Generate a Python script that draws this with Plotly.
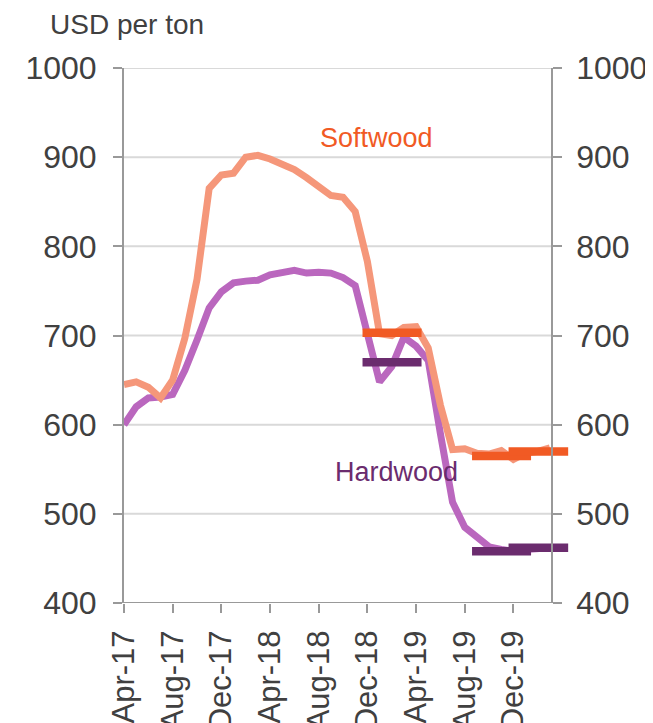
import plotly.graph_objects as go

# ---- data ----
month_labels = ["Apr-17", "May-17", "Jun-17", "Jul-17", "Aug-17", "Sep-17", "Oct-17", "Nov-17",
                "Dec-17", "Jan-18", "Feb-18", "Mar-18", "Apr-18", "May-18", "Jun-18", "Jul-18",
                "Aug-18", "Sep-18", "Oct-18", "Nov-18", "Dec-18", "Jan-19", "Feb-19", "Mar-19",
                "Apr-19", "May-19", "Jun-19", "Jul-19", "Aug-19", "Sep-19", "Oct-19", "Nov-19",
                "Dec-19", "Jan-20", "Feb-20", "Mar-20"]
softwood = [645, 648, 642, 630, 650, 697, 763, 865, 880, 882, 900, 902, 898, 893, 886, 877,
            867, 857, 855, 839, 783, 702, 700, 709, 710, 686, 622, 572, 573, 568, 567, 571,
            561, 568, 570, 574]
hardwood = [600, 620, 630, 631, 634, 661, 695, 731, 749, 759, 761, 762, 768, 771, 773, 770,
            771, 770, 765, 756, 703, 648, 665, 698, 688, 672, 590, 513, 485, 474, 463, 460,
            458, 460, 461, 462]
# period averages: (start month index, end month index, value)
softwood_avg = [(19.6, 24.45, 703), (28.6, 33.45, 565), (31.6, 36.5, 570)]
hardwood_avg = [(19.6, 24.45, 670), (28.6, 33.45, 458), (31.6, 36.5, 462)]
tick_labels = ["Apr-17", "Aug-17", "Dec-17", "Apr-18", "Aug-18", "Dec-18", "Apr-19", "Aug-19", "Dec-19"]
y_ticks = [400, 500, 600, 700, 800, 900, 1000]

# ---- styles ----
SOFT_LINE = "#F5977A"
HARD_LINE = "#BA67BE"
SOFT_BAR = "#F15A24"
HARD_BAR = "#6B2C6E"
AXIS_C = "#999999"
GRID_C = "#D9D9D9"
TXT_C = "#404040"
FONT = "Liberation Sans, Arial, sans-serif"

X_RANGE = [0, 36.65]
RIGHT_AXIS_MONTH = 35.15
right_pos = RIGHT_AXIS_MONTH / X_RANGE[1]

x_idx = list(range(len(month_labels)))


def seg_xy(segs):
    xs, ys = [], []
    for s, e, v in segs:
        xs += [s, e, None]
        ys += [v, v, None]
    return xs, ys


fig = go.Figure()
fig.add_trace(go.Scatter(x=x_idx, y=hardwood, mode="lines", line=dict(color=HARD_LINE, width=7),
                         hoverinfo="skip"))
fig.add_trace(go.Scatter(x=x_idx, y=softwood, mode="lines", line=dict(color=SOFT_LINE, width=7),
                         hoverinfo="skip"))
sx, sy = seg_xy(softwood_avg)
hx, hy = seg_xy(hardwood_avg)
fig.add_trace(go.Scatter(x=hx, y=hy, mode="lines", line=dict(color=HARD_BAR, width=8.5),
                         yaxis="y2", hoverinfo="skip"))
fig.add_trace(go.Scatter(x=sx, y=sy, mode="lines", line=dict(color=SOFT_BAR, width=8.5),
                         yaxis="y2", hoverinfo="skip"))

tickvals = [month_labels.index(t) for t in tick_labels]

shapes = []
for v in y_ticks[1:]:
    shapes.append(dict(type="line", xref="paper", x0=0, x1=right_pos, yref="y", y0=v, y1=v,
                       line=dict(color=GRID_C, width=2), layer="below"))
shapes.append(dict(type="line", xref="paper", x0=0, x1=right_pos, yref="y", y0=y_ticks[0], y1=y_ticks[0],
                   line=dict(color=AXIS_C, width=2), layer="below"))

yaxis_common = dict(range=[400, 1000], tickvals=y_ticks, ticks="outside", ticklen=9, tickwidth=2,
                    tickcolor=AXIS_C, showline=True, linecolor=AXIS_C, linewidth=2,
                    showgrid=False, zeroline=False, tickfont=dict(size=32, color=TXT_C, family=FONT),
                    automargin=False)

# the page body adds an 8px offset, so the figure is drawn 8px smaller with margins shifted
fig.update_layout(
    width=645, height=715,
    margin=dict(l=116, r=83, t=60, b=120),
    plot_bgcolor="white", paper_bgcolor="white",
    showlegend=False,
    font=dict(family=FONT, color=TXT_C),
    xaxis=dict(range=X_RANGE, tickvals=tickvals, ticktext=tick_labels, tickangle=-90,
               ticks="outside", ticklen=9, tickwidth=2, tickcolor=AXIS_C,
               showline=False, showgrid=False, zeroline=False, automargin=False,
               tickfont=dict(size=31, color=TXT_C, family=FONT), ticklabelstandoff=5),
    yaxis=dict(ticklabelstandoff=10, **yaxis_common),
    yaxis2=dict(overlaying="y", anchor="free", position=right_pos, side="right",
                ticklabelstandoff=8, **yaxis_common),
    shapes=shapes,
    annotations=[
        dict(text="USD per ton", xref="paper", yref="paper", x=-0.17, y=1.082,
             xanchor="left", yanchor="middle", showarrow=False,
             font=dict(size=28, color=TXT_C, family=FONT)),
        dict(text="Softwood", xref="paper", yref="paper", x=0.566, y=0.869,
             xanchor="center", yanchor="middle", showarrow=False,
             font=dict(size=27, color=SOFT_BAR, family=FONT)),
        dict(text="Hardwood", xref="paper", yref="paper", x=0.612, y=0.245,
             xanchor="center", yanchor="middle", showarrow=False,
             font=dict(size=27, color=HARD_BAR, family=FONT)),
    ],
)

fig.write_html("out.html")
